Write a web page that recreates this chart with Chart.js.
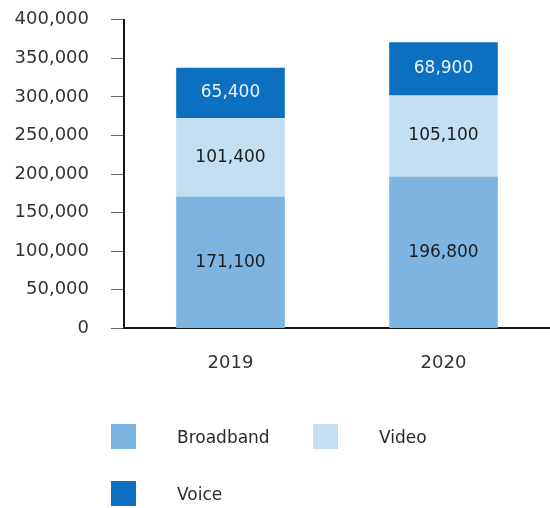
<!DOCTYPE html>
<html>
<head>
<meta charset="utf-8">
<script src="https://cdn.jsdelivr.net/npm/chart.js@4"></script>
<style>
  body { margin: 0; background: #fff; font-family: "DejaVu Sans", sans-serif; }
  #wrap { position: relative; width: 550px; height: 508px; overflow: hidden; }
  #chart { display: block; margin-top: -13px; }
  #legend { position: absolute; left: 0; top: 0; width: 550px; height: 508px; pointer-events: none; }
  .item { position: absolute; display: flex; align-items: center; font-size: 17px; color: #2a2a2a; }
  .swatch { width: 25px; height: 25px; }
  .item span { margin-left: 41px; }
</style>
</head>
<body>
<div id="wrap">
  <canvas id="chart" width="550" height="411"></canvas>
  <div id="legend"></div>
</div>
<script>
const years = ['2019', '2020']
const broadband = [171100, 196800]
const video = [101400, 105100]
const voice = [65400, 68900]
const yTicks = [0, 50000, 100000, 150000, 200000, 250000, 300000, 350000, 400000]

const seriesNames = ['Broadband', 'Video', 'Voice']
const seriesColors = ['#7db5e0', '#c5dff2', '#0c6fbf']
const labelColors = ['#1d1d1d', '#1d1d1d', '#eaf3fb']

const fmt = v => v.toLocaleString('en-US')

// writes each segment's value in the middle of its bar
const segmentLabels = {
  id: 'segmentLabels',
  afterDatasetsDraw(chart) {
    const ctx = chart.ctx
    ctx.save()
    ctx.font = '17px "DejaVu Sans"'
    ctx.textAlign = 'center'
    ctx.textBaseline = 'middle'
    chart.data.datasets.forEach((ds, i) => {
      chart.getDatasetMeta(i).data.forEach((bar, j) => {
        ctx.fillStyle = labelColors[i]
        ctx.fillText(fmt(ds.data[j]), bar.x, (bar.y + bar.base) / 2)
      })
    })
    ctx.restore()
  }
}

const chart = new Chart(document.getElementById('chart'), {
  type: 'bar',
  data: {
    labels: years,
    datasets: [broadband, video, voice].map((values, i) => ({
      label: seriesNames[i],
      data: values,
      backgroundColor: seriesColors[i],
      borderWidth: 0,
      barPercentage: 0.51,
      categoryPercentage: 1
    }))
  },
  options: {
    responsive: false,
    animation: false,
    layout: { padding: { top: 10, left: 0, right: 0, bottom: 0 } },
    plugins: { legend: { display: false }, tooltip: { enabled: false } },
    scales: {
      x: {
        stacked: true,
        border: { color: '#151515', width: 2 },
        grid: { drawOnChartArea: false, drawTicks: false },
        ticks: { color: '#333', padding: 24, font: { family: 'DejaVu Sans', size: 18 } }
      },
      y: {
        stacked: true,
        min: 0,
        max: 400000,
        afterBuildTicks: axis => { axis.ticks = yTicks.map(v => ({ value: v })) },
        afterFit: axis => { axis.width = 124 },
        border: { color: '#151515', width: 2 },
        grid: { drawOnChartArea: false, drawTicks: true, tickLength: 13, color: '#666', lineWidth: 1 },
        ticks: {
          color: '#333',
          padding: 22,
          font: { family: 'DejaVu Sans', size: 18 },
          callback: v => fmt(v)
        }
      }
    }
  },
  plugins: [segmentLabels]
})

// legend laid out in two rows below the chart
const legendSpots = [[111, 424], [313, 424], [111, 481]]
const legend = document.getElementById('legend')
chart.data.datasets.forEach((ds, i) => {
  const item = document.createElement('div')
  item.className = 'item'
  item.style.left = legendSpots[i][0] + 'px'
  item.style.top = legendSpots[i][1] + 'px'
  item.innerHTML = `<div class="swatch" style="background:${ds.backgroundColor}"></div><span>${ds.label}</span>`
  legend.appendChild(item)
})
</script>
</body>
</html>
